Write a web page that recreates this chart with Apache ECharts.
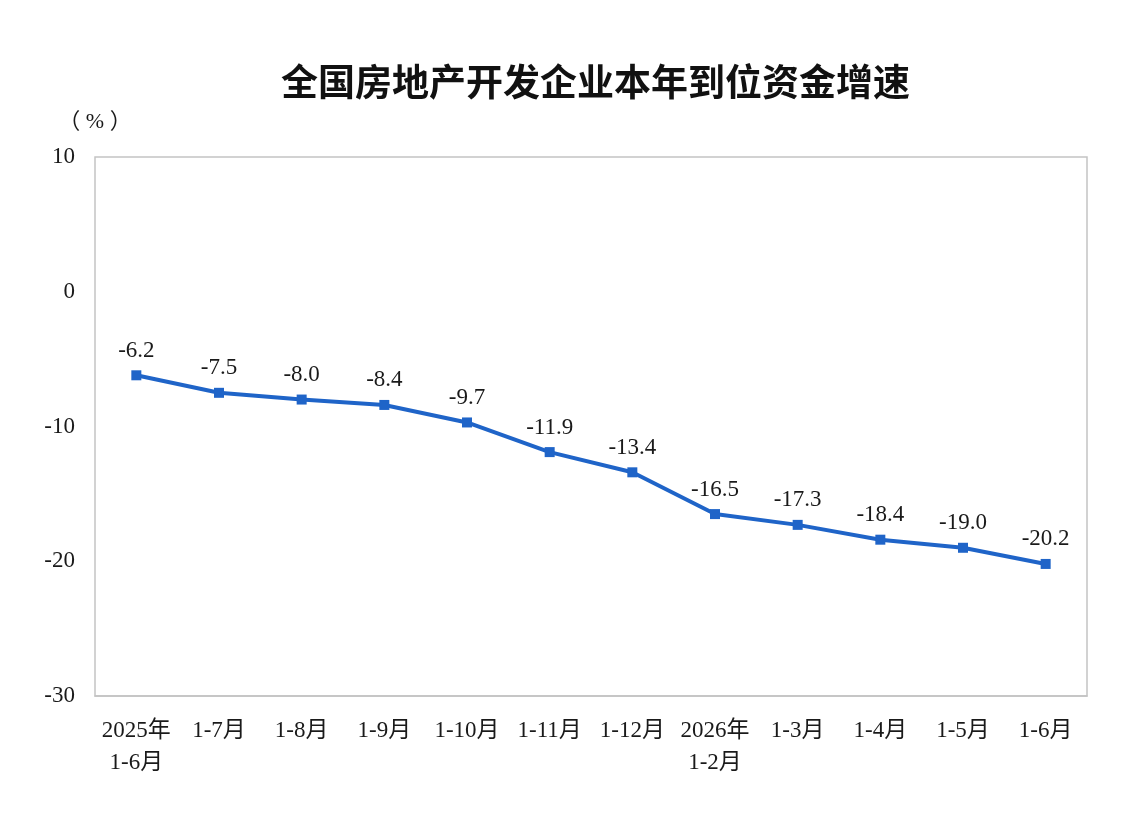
<!DOCTYPE html>
<html>
<head>
    <meta charset="utf-8">
    <title>全国房地产开发企业本年到位资金增速</title>
    <script src="https://cdn.jsdelivr.net/npm/echarts@6/dist/echarts.min.js"></script>
    <style>
        html, body { margin: 0; padding: 0; background: #fff; }
        #chart1 { width: 1144px; height: 828px; }
    </style>
</head>
<body>
<div id="chart1"></div>
<script type="text/javascript">
    // 数据
    let months = ['2025年\n1-6月', '1-7月', '1-8月', '1-9月', '1-10月', '1-11月', '1-12月',
        '2026年\n1-2月', '1-3月', '1-4月', '1-5月', '1-6月'];
    let growth = [-6.2, -7.5, -8.0, -8.4, -9.7, -11.9, -13.4, -16.5, -17.3, -18.4, -19.0, -20.2];

    let serif = '"Liberation Serif", "Times New Roman", "Noto Sans CJK SC", serif';

    let myChart1 = echarts.init(document.getElementById('chart1'));
    myChart1.setOption({
        animation: false,
        title: {
            text: '全国房地产开发企业本年到位资金增速',
            left: 276,
            top: 58,
            textStyle: {
                fontFamily: '"Noto Sans CJK SC", sans-serif',
                fontSize: 37,
                fontWeight: 'bold',
                color: '#111'
            }
        },
        grid: {
            left: 95,
            right: 57,
            top: 157,
            bottom: 132,
            show: true,
            borderColor: '#c4c4c4',
            borderWidth: 1.5
        },
        xAxis: {
            type: 'category',
            data: months,
            axisLine: { onZero: false, lineStyle: { color: '#c4c4c4', width: 1.5 } },
            axisTick: { inside: true, length: 8, lineStyle: { color: '#c4c4c4', width: 1.5 } },
            axisLabel: {
                margin: 19,
                fontFamily: serif,
                fontSize: 23,
                lineHeight: 32,
                color: '#1a1a1a',
                interval: 0
            }
        },
        yAxis: {
            type: 'value',
            min: -30,
            max: 10,
            interval: 10,
            name: '（ % ）',
            nameLocation: 'end',
            nameGap: 24,
            nameTextStyle: {
                fontFamily: serif,
                fontSize: 22,
                color: '#1a1a1a',
                align: 'center'
            },
            axisLine: { show: false },
            axisTick: { show: false },
            splitLine: { show: false },
            axisLabel: {
                margin: 20,
                fontFamily: serif,
                fontSize: 23,
                color: '#1a1a1a'
            }
        },
        series: [{
            type: 'line',
            data: growth,
            symbol: 'rect',
            symbolSize: 10,
            lineStyle: { color: '#1f64c8', width: 4 },
            itemStyle: { color: '#1f64c8' },
            label: {
                show: true,
                position: 'top',
                distance: 8,
                fontFamily: serif,
                fontSize: 23,
                color: '#1a1a1a',
                formatter: function (p) { return p.value.toFixed(1); }
            }
        }]
    });
</script>
</body>
</html>
